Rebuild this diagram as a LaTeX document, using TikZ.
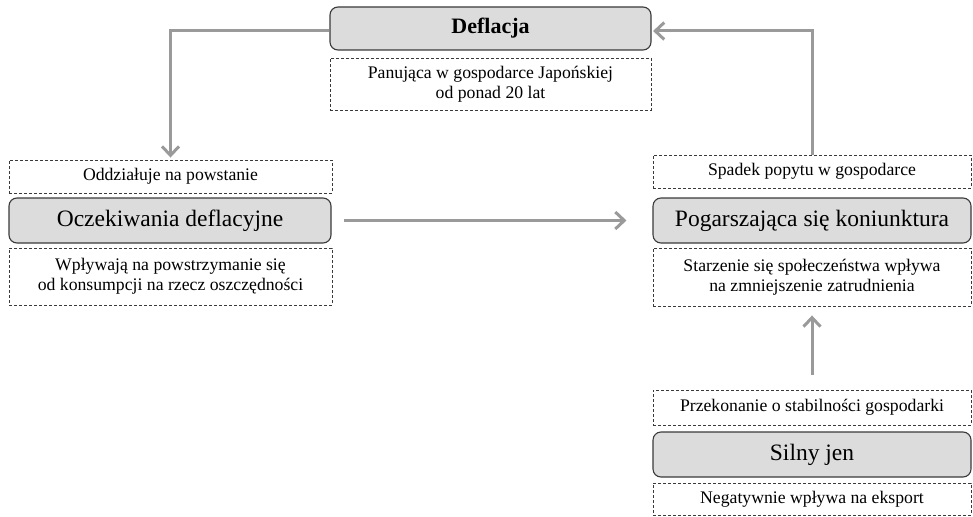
\documentclass[tikz,border=0pt]{standalone}
\usepackage{fontspec}
\setmainfont{Liberation Serif}
\usetikzlibrary{arrows.meta}
\definecolor{boxfill}{HTML}{DCDCDC}
\definecolor{boxline}{HTML}{3A3A3A}
\definecolor{arrowgray}{HTML}{9A9A9A}
\tikzset{
  mainbox/.style={draw=boxline, line width=1.1pt, fill=boxfill, rounded corners=8pt,
    inner sep=0pt, align=center, font=\fontsize{23.5}{27}\selectfont},
  notebox/.style={draw=boxline, line width=0.9pt, dash pattern=on 3pt off 2pt,
    inner sep=0pt, align=center, font=\fontsize{17.7}{20}\selectfont},
  flow/.style={draw=arrowgray, line width=3pt,
    -{Straight Barb[length=9pt,width=17pt,line width=3pt]}}
}
\begin{document}
\begin{tikzpicture}[x=1pt,y=-1pt]
\useasboundingbox (0,0) rectangle (973,516);
% top
\node[mainbox, minimum width=321pt, minimum height=43pt] (defl) at (490.5,28.5) {\fontsize{22}{26}\selectfont\textbf{Deflacja}};
\node[notebox, minimum width=321pt, minimum height=52pt] (defln) at (490.5,84) {Panująca w gospodarce Japońskiej\\od ponad 20 lat};
% left
\node[notebox, minimum width=323pt, minimum height=33pt] (odd) at (170.5,176.5) {Oddziałuje na powstanie};
\node[mainbox, minimum width=322pt, minimum height=45pt] (ocz) at (170,220.5) {Oczekiwania deflacyjne};
\node[notebox, minimum width=323pt, minimum height=57pt] (wply) at (170.5,276.5) {Wpływają na powstrzymanie się\\od konsumpcji na rzecz oszczędności};
% right
\node[notebox, minimum width=318pt, minimum height=33pt] (spad) at (812,171.5) {Spadek popytu w gospodarce};
\node[mainbox, minimum width=318pt, minimum height=45pt] (pog) at (812,220.5) {Pogarszająca się koniunktura};
\node[notebox, minimum width=318pt, minimum height=58pt] (starz) at (812,277) {Starzenie się społeczeństwa wpływa\\na zmniejszenie zatrudnienia};
\node[notebox, minimum width=318pt, minimum height=35pt] (przek) at (812,407.5) {Przekonanie o stabilności gospodarki};
\node[mainbox, minimum width=318pt, minimum height=45pt] (silny) at (812,454.5) {Silny jen};
\node[notebox, minimum width=318pt, minimum height=32pt] (neg) at (812,499) {Negatywnie wpływa na eksport};
% connectors
\draw[flow] ([yshift=-2.5pt]defl.west) -| ([yshift=2pt]odd.north);
\draw[flow] (spad.north) |- ([yshift=-2.5pt,xshift=1.5pt]defl.east);
\draw[flow] ([xshift=12pt]ocz.east) -- ([xshift=-26pt]pog.west);
\draw[flow] ([yshift=15pt]przek.north) -- ([yshift=-9pt]starz.south);
\end{tikzpicture}
\end{document}
